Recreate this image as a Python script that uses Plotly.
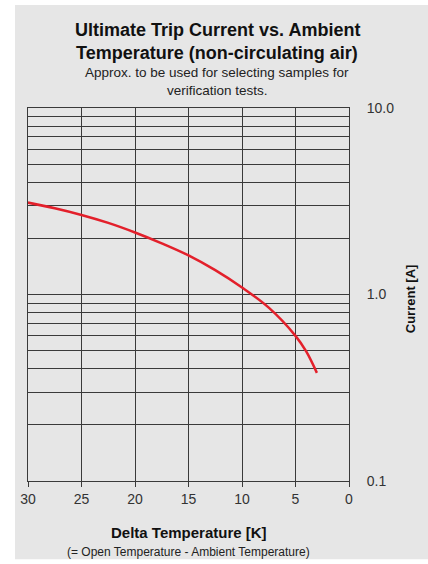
import plotly.graph_objects as go

# curve: delta temperature [K] vs ultimate trip current [A]
delta_temp = [30, 27.5, 25, 22.5, 20, 17.5, 15, 12.5, 10, 7.5, 5, 4, 3]
trip_current = [3.11, 2.90, 2.67, 2.42, 2.15, 1.88, 1.62, 1.35, 1.09, 0.85, 0.60, 0.495, 0.38]

x_ticks = [30, 25, 20, 15, 10, 5, 0]
y_ticks = [0.1, 1.0, 10.0]
y_ticktext = ["0.1", "1.0", "10.0"]

font = "Liberation Sans, Arial, sans-serif"
grid = "#3a3a3a"

fig = go.Figure()
fig.add_trace(go.Scatter(x=delta_temp, y=trip_current, mode="lines",
                         line=dict(color="#e3202b", width=2.5, shape="spline"),
                         showlegend=False, hoverinfo="skip"))

# log gridlines at 1..9 in each decade, labels only at decades
grid_vals = [m * 10 ** e for e in (-1, 0) for m in range(1, 10)] + [10]
grid_text = []
for v in grid_vals:
    lab = ""
    for t, s in zip(y_ticks, y_ticktext):
        if abs(v - t) < 1e-9:
            lab = s
    grid_text.append(lab)


def note(text, x, y, size, angle=0, color="#111"):
    return dict(text=text, xref="paper", yref="paper", x=x, y=y,
                xanchor="center", yanchor="middle", showarrow=False,
                textangle=angle, font=dict(size=size, color=color))


fig.update_layout(
    width=428, height=564,
    margin=dict(l=28, r=79, t=108, b=83),
    paper_bgcolor="white",
    plot_bgcolor="white",
    font=dict(family=font, color="#2a2a2a"),
    xaxis=dict(range=[30, 0], tickvals=x_ticks, showgrid=True, gridcolor=grid, gridwidth=1,
               showline=True, linecolor=grid, linewidth=1, mirror=True,
               ticks="outside", ticklen=5, tickcolor=grid,
               tickfont=dict(size=14, color="#333"), zeroline=False),
    yaxis=dict(type="log", range=[-1, 1], side="right", tickvals=grid_vals, ticktext=grid_text,
               showgrid=True, gridcolor=grid, gridwidth=1,
               showline=True, linecolor=grid, linewidth=1, mirror=True,
               ticks="", ticklabelstandoff=14,
               tickfont=dict(size=14, color="#333")),
    shapes=[dict(type="rect", xref="paper", yref="paper", layer="below",
                 x0=-0.0405, x1=1.25, y0=-0.21, y1=1.276,
                 fillcolor="#e6e6e6", line=dict(width=0))],
    annotations=[
        note("<b>Ultimate Trip Current vs. Ambient</b>", 0.589, 1.209, 18),
        note("<b>Temperature (non-circulating air)</b>", 0.589, 1.147, 18),
        note("Approx. to be used for selecting samples for", 0.589, 1.094, 13.5, color="#222"),
        note("verification tests.", 0.589, 1.048, 13.5, color="#222"),
        note("<b>Delta Temperature [K]</b>", 0.5, -0.139, 15),
        note("(= Open Temperature - Ambient Temperature)", 0.5, -0.190, 12, color="#222"),
        note("<b>Current [A]</b>", 1.19, 0.49, 13, angle=-90),
    ],
)

fig.write_html("out.html", config={"displayModeBar": False},
               post_script="document.body.style.margin='0';")
